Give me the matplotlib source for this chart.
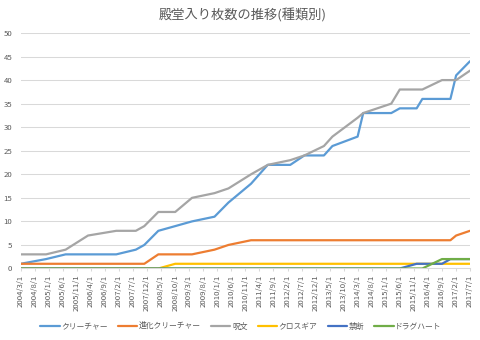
import matplotlib
matplotlib.use("Agg")
import matplotlib.pyplot as plt
import matplotlib.dates as mdates
import pandas as pd

plt.rcParams['font.family'] = ['Noto Sans CJK JP', 'DejaVu Sans']

title = "殿堂入り枚数の推移(種類別)"

dates = ["2004/3", "2004/12", "2005/7", "2006/3", "2007/1", "2007/8", "2007/11",
         "2008/4", "2008/10", "2009/4", "2009/12", "2010/5", "2011/1", "2011/7",
         "2012/3", "2012/8", "2013/3", "2013/6", "2014/3", "2014/5", "2015/3",
         "2015/6", "2015/12", "2016/2", "2016/9", "2016/12", "2017/2", "2017/7"]

creature = [1, 2, 3, 3, 3, 4, 5, 8, 9, 10, 11, 14, 18, 22, 22, 24, 24, 26, 28, 33,
            33, 34, 34, 36, 36, 36, 41, 44]
evo_creature = [1, 1, 1, 1, 1, 1, 1, 3, 3, 3, 4, 5, 6, 6, 6, 6, 6, 6, 6, 6,
                6, 6, 6, 6, 6, 6, 7, 8]
spell = [3, 3, 4, 7, 8, 8, 9, 12, 12, 15, 16, 17, 20, 22, 23, 24, 26, 28, 32, 33,
         35, 38, 38, 38, 40, 40, 40, 42]
cross_gear = [0, 0, 0, 0, 0, 0, 0, 0, 1, 1, 1, 1, 1, 1, 1, 1, 1, 1, 1, 1,
              1, 1, 1, 1, 1, 1, 1, 1]
kindan = [0, 0, 0, 0, 0, 0, 0, 0, 0, 0, 0, 0, 0, 0, 0, 0, 0, 0, 0, 0,
          0, 0, 1, 1, 1, 2, 2, 2]
draghart = [0, 0, 0, 0, 0, 0, 0, 0, 0, 0, 0, 0, 0, 0, 0, 0, 0, 0, 0, 0,
            0, 0, 0, 0, 2, 2, 2, 2]

series_names = ["クリーチャー", "進化クリーチャー", "呪文", "クロスギア", "禁断", "ドラグハート"]
series_values = [creature, evo_creature, spell, cross_gear, kindan, draghart]
colors = ["#5B9BD5", "#ED7D31", "#A5A5A5", "#FFC000", "#4472C4", "#70AD47"]

y_ticks = [0, 5, 10, 15, 20, 25, 30, 35, 40, 45, 50]
tick_start, tick_end = "2004/3", "2017/7"

x = pd.to_datetime(dates, format="%Y/%m")
tick_dates = pd.date_range(pd.to_datetime(tick_start, format="%Y/%m"),
                           pd.to_datetime(tick_end, format="%Y/%m"), freq="5MS")

txt = "#595959"
fig = plt.figure(figsize=(4.8, 3.4), dpi=100)
ax = fig.add_axes([0.0431, 0.2103, 0.9360, 0.6927])

for name, vals, c in zip(series_names, series_values, colors):
    ax.plot(x, vals, color=c, lw=1.6, label=name, solid_capstyle='round',
            solid_joinstyle='round')

ax.set_xlim(tick_dates[0], tick_dates[-1])
ax.set_ylim(0, 50)
ax.set_yticks(y_ticks)
ax.yaxis.grid(True, color="#D9D9D9", lw=0.75)
ax.set_axisbelow(True)
for s in ["top", "right", "left"]:
    ax.spines[s].set_visible(False)
ax.spines["bottom"].set_color("#D9D9D9")
ax.spines["bottom"].set_linewidth(0.75)

ax.set_xticks(tick_dates)
ax.set_xticklabels([f"{d.year}/{d.month}/{d.day}" for d in tick_dates],
                   rotation=90, fontsize=5.6, color=txt)
ax.tick_params(axis='x', length=2.5, color="#D9D9D9", width=0.75, pad=2)
ax.tick_params(axis='y', length=0, pad=6, labelsize=5.6, labelcolor=txt)

fig.text(0.506, 0.955, title, ha="center", va="center", fontsize=9.5, color=txt)

fig.legend(loc="center", bbox_to_anchor=(0.502, 0.038), ncol=6, frameon=False,
           fontsize=5.6, handlelength=2.5, handletextpad=0.2, columnspacing=1.3,
           labelcolor=txt)

fig.savefig("out.png", dpi=100)
